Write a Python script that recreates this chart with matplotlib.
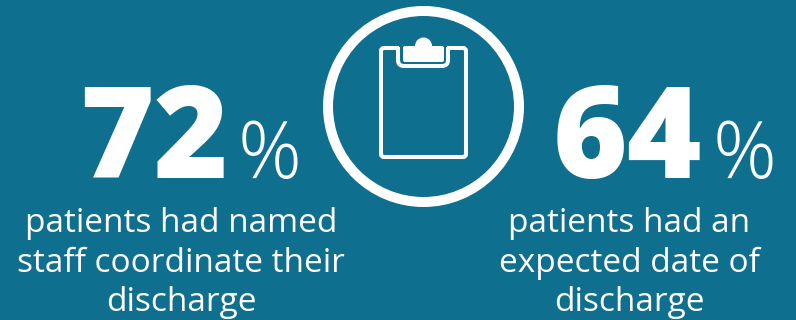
import matplotlib
matplotlib.use("Agg")
import matplotlib.pyplot as plt
from matplotlib.patches import Circle, FancyBboxPatch, PathPatch, Rectangle
from matplotlib.path import Path

# VALUES AND CAPTIONS
values = [72, 64]
captions = [
    "patients had named\nstaff coordinate their\ndischarge",
    "patients had an\nexpected date of\ndischarge",
]
number_x = [153.5, 627]
percent_x = [269.5, 744.5]
caption_x = [181, 629]

BLUE = "#0f6f8f"

plt.rcParams["font.family"] = ["Open Sans", "DejaVu Sans"]

fig = plt.figure(figsize=(7.96, 3.20), dpi=100, facecolor=BLUE)
ax = fig.add_axes([0, 0, 1, 1])
ax.set_xlim(0, 796)
ax.set_ylim(320, 0)
ax.axis("off")

# BIG NUMBERS, PERCENT SIGNS AND CAPTIONS
for i in range(len(values)):
    ax.text(number_x[i], 178, str(values[i]), color="white", fontsize=92, fontweight=800,
            ha="center", va="baseline")
    ax.text(percent_x[i], 178, "%", color="white", fontsize=57, fontweight=300,
            ha="center", va="baseline")
    lines = captions[i].split("\n")
    for j in range(len(lines)):
        ax.text(caption_x[i], 232 + j * 39.5, lines[j], color="white", fontsize=24,
                ha="center", va="baseline")

# CIRCLE WITH THE CLIPBOARD INSIDE
ax.add_patch(Circle((423.5, 106.5), 95.5, fill=False, ec="white", lw=7.2))
ax.add_patch(FancyBboxPatch((381, 48), 85, 109, boxstyle="round,pad=0,rounding_size=3",
                            fc="none", ec="white", lw=2.9))
ax.add_patch(Rectangle((399, 44), 48, 8, fc=BLUE, ec="none", zorder=2))

# U SHAPED HOLDER UNDER THE CLIP
holder = Path(
    [(398, 47), (398, 60), (398, 66), (404, 66), (442, 66), (448, 66), (448, 60), (448, 47)],
    [Path.MOVETO, Path.LINETO, Path.CURVE3, Path.CURVE3, Path.LINETO, Path.CURVE3, Path.CURVE3, Path.LINETO],
)
ax.add_patch(PathPatch(holder, fc="none", ec="white", lw=2.9, zorder=3, capstyle="butt"))
ax.add_patch(FancyBboxPatch((403, 46), 41, 16, boxstyle="round,pad=0,rounding_size=2",
                            fc="white", ec="none", zorder=3))
ax.add_patch(Circle((423.5, 46), 8.5, fc="white", ec="none", zorder=3))

fig.savefig("out.png", dpi=100, facecolor=BLUE)
